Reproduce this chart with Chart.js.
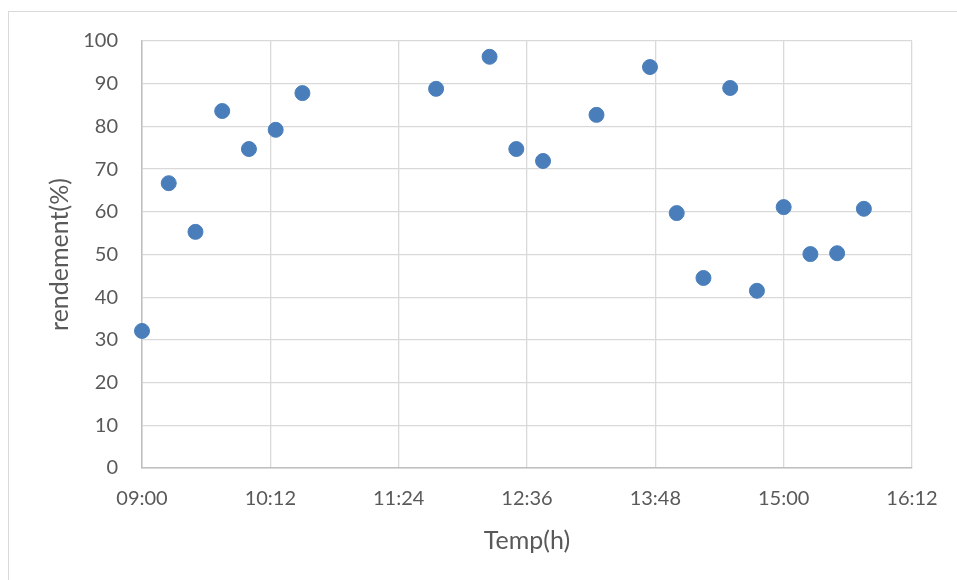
<!DOCTYPE html>
<html>
<head>
<meta charset="utf-8">
<script src="https://cdn.jsdelivr.net/npm/chart.js@4"></script>
<style>
    html, body { margin: 0; padding: 0; background: #fff; overflow: hidden; }
    #wrap { position: relative; width: 957px; height: 580px; }
    #frame { position: absolute; left: 8px; top: 11px; width: 1000px; height: 1000px; border: 1px solid #d9d9d9; }
    #chart { position: absolute; left: 0; top: 0; }
</style>
</head>
<body>
<div id="wrap">
    <div id="frame"></div>
    <canvas id="chart" width="957" height="580"></canvas>
</div>
<script>
// data
const times = ["09:00", "09:15", "09:30", "09:45", "10:00", "10:15", "10:30",
    "11:45", "12:15", "12:30", "12:45", "13:15", "13:45", "14:00", "14:15",
    "14:30", "14:45", "15:00", "15:15", "15:30", "15:45"];
const rendement = [32.1, 66.7, 55.3, 83.6, 74.7, 79.2, 87.8,
    88.8, 96.3, 74.7, 71.9, 82.7, 93.9, 59.7, 44.5,
    89.0, 41.5, 61.1, 50.1, 50.3, 60.7];

const xMin = "09:00";
const xMax = "16:12";
const xStep = 72; // minutes between x ticks

function toMinutes(t) {
    const p = t.split(":");
    return parseInt(p[0], 10) * 60 + parseInt(p[1], 10);
}
function toLabel(m) {
    const h = Math.floor(m / 60);
    const mm = Math.round(m % 60);
    return String(h).padStart(2, "0") + ":" + String(mm).padStart(2, "0");
}

const points = times.map(function (t, i) {
    return { x: toMinutes(t), y: rendement[i] };
});

const fontFamily = "Lato, 'Open Sans', sans-serif";
const textColor = "#595959";

document.addEventListener("DOMContentLoaded", function () {
    new Chart(document.getElementById("chart"), {
        type: "scatter",
        data: {
            datasets: [{
                label: "rendement",
                data: points,
                backgroundColor: "#4a7ebb",
                borderColor: "#4a7ebb",
                pointRadius: 7.5,
                pointHoverRadius: 7.5,
                clip: false
            }]
        },
        options: {
            responsive: false,
            animation: false,
            layout: { padding: { left: 0, top: 41, right: 45, bottom: 0 } },
            plugins: {
                legend: { display: false },
                tooltip: { enabled: false }
            },
            scales: {
                x: {
                    type: "linear",
                    min: toMinutes(xMin),
                    max: toMinutes(xMax),
                    afterFit: function (scale) { scale.height = 112; },
                    ticks: {
                        stepSize: xStep,
                        padding: 19,
                        maxRotation: 0,
                        color: textColor,
                        font: { family: fontFamily, size: 20 },
                        callback: function (v) { return toLabel(v); }
                    },
                    grid: { color: "#d9d9d9", lineWidth: 1.3, drawTicks: false },
                    border: { color: "#bfbfbf", width: 1.5 },
                    title: {
                        display: true,
                        text: "Temp(h)",
                        color: textColor,
                        font: { family: fontFamily, size: 25 },
                        padding: { bottom: 24 }
                    }
                },
                y: {
                    min: 0,
                    max: 100,
                    afterFit: function (scale) { scale.width = 142; },
                    ticks: {
                        stepSize: 10,
                        padding: 24,
                        color: textColor,
                        font: { family: fontFamily, size: 20 }
                    },
                    grid: { color: "#d9d9d9", lineWidth: 1.3, drawTicks: false },
                    border: { color: "#bfbfbf", width: 1.5 },
                    title: {
                        display: true,
                        text: "rendement(%)",
                        color: textColor,
                        font: { family: fontFamily, size: 25 },
                        padding: { top: 45 }
                    }
                }
            }
        }
    });
});
</script>
</body>
</html>
